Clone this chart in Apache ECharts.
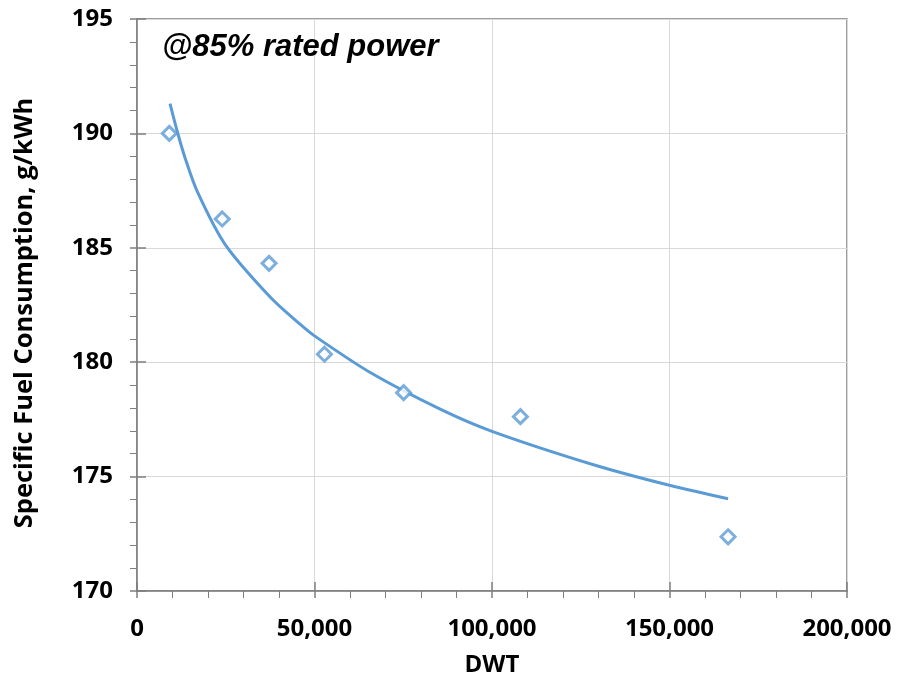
<!DOCTYPE html>
<html>
<head>
<meta charset="utf-8">
<script src="https://cdn.jsdelivr.net/npm/echarts@6/dist/echarts.min.js"></script>
<style>
  html, body { margin: 0; padding: 0; background: #ffffff; }
  #chart { width: 908px; height: 677px; }
</style>
</head>
<body>
<div id="chart"></div>
<script>
// Engine test data: deadweight tonnage vs specific fuel consumption at 85% rated power
const dwt = [9100, 24000, 37200, 52800, 75100, 108000, 166500];
const sfc = [190.0, 186.26, 184.32, 180.35, 178.67, 177.62, 172.37];

// Logarithmic trend curve, sampled along its length
const trendDwt = [9300, 11400, 13500, 17000, 24800, 37500, 46000, 50000, 65700, 85400, 100000, 128600, 150000, 166500];
const trendSfc = [191.3, 190.05, 188.95, 187.45, 185.15, 182.85, 181.65, 181.15, 179.55, 177.95, 176.98, 175.52, 174.62, 174.03];

const xTicks = [0, 50000, 100000, 150000, 200000];
const yTicks = [170, 175, 180, 185, 190, 195];

const labelFont = { fontFamily: 'Open Sans', fontWeight: 'bold', fontSize: 24, color: '#000000' };
const blue = '#5B9BD5';
const axisGrey = '#7f7f7f';

const chart = echarts.init(document.getElementById('chart'), null, { renderer: 'canvas' });

const xBase = {
  type: 'value',
  min: xTicks[0],
  max: xTicks[xTicks.length - 1],
  interval: xTicks[1] - xTicks[0]
};
const yBase = {
  type: 'value',
  min: yTicks[0],
  max: yTicks[yTicks.length - 1],
  interval: yTicks[1] - yTicks[0]
};

chart.setOption({
  animation: false,
  title: {
    text: '@85% rated power',
    left: 157,
    top: 27,
    textStyle: { fontFamily: 'Liberation Sans', fontStyle: 'italic', fontWeight: 'bold', fontSize: 31, color: '#000000' }
  },
  grid: {
    left: 137, top: 19, right: 61, bottom: 86,
    outerBoundsMode: 'none',
    containLabel: false,
    show: true, borderColor: axisGrey, borderWidth: 1.5, backgroundColor: 'transparent'
  },
  xAxis: [
    Object.assign({}, xBase, {
      name: 'DWT',
      nameLocation: 'middle',
      nameGap: 62,
      nameTextStyle: labelFont,
      axisLine: { show: true, lineStyle: { color: axisGrey, width: 1.5 } },
      axisTick: { show: true, length: 7, lineStyle: { color: axisGrey, width: 1.5 } },
      minorTick: { show: true, splitNumber: 5, length: 7, lineStyle: { color: axisGrey, width: 1 } },
      axisLabel: Object.assign({}, labelFont, {
        margin: 26,
        formatter: v => v.toLocaleString('en-US')
      }),
      splitLine: { show: true, lineStyle: { color: '#d9d9d9', width: 1 } }
    }),
    // inner half of the crossing major ticks
    Object.assign({}, xBase, {
      position: 'bottom',
      axisLine: { show: false },
      axisTick: { show: true, inside: true, length: 9, lineStyle: { color: axisGrey, width: 1.5 } },
      axisLabel: { show: false },
      splitLine: { show: false }
    })
  ],
  yAxis: [
    Object.assign({}, yBase, {
      name: 'Specific Fuel Consumption, g/kWh',
      nameLocation: 'middle',
      nameGap: 99,
      nameTextStyle: Object.assign({}, labelFont, { fontSize: 25.5, padding: [0, 16, 0, 0] }),
      axisLine: { show: true, lineStyle: { color: axisGrey, width: 1.5 } },
      axisTick: { show: true, length: 7, lineStyle: { color: axisGrey, width: 1.5 } },
      minorTick: { show: true, splitNumber: 5, length: 7, lineStyle: { color: axisGrey, width: 1 } },
      axisLabel: Object.assign({}, labelFont, { margin: 24 }),
      splitLine: { show: true, lineStyle: { color: '#d9d9d9', width: 1 } }
    }),
    Object.assign({}, yBase, {
      position: 'left',
      axisLine: { show: false },
      axisTick: { show: true, inside: true, length: 9, lineStyle: { color: axisGrey, width: 1.5 } },
      axisLabel: { show: false },
      splitLine: { show: false }
    })
  ],
  series: [
    {
      name: 'Trend',
      type: 'line',
      data: trendDwt.map((x, i) => [x, trendSfc[i]]),
      smooth: 0.3,
      showSymbol: false,
      lineStyle: { color: blue, width: 3 },
      z: 3
    },
    {
      name: 'SFC',
      type: 'scatter',
      data: dwt.map((x, i) => [x, sfc[i]]),
      symbol: 'diamond',
      symbolSize: 14,
      itemStyle: { color: '#ffffff', borderColor: blue, borderWidth: 3 },
      z: 4
    }
  ]
});
</script>
</body>
</html>
